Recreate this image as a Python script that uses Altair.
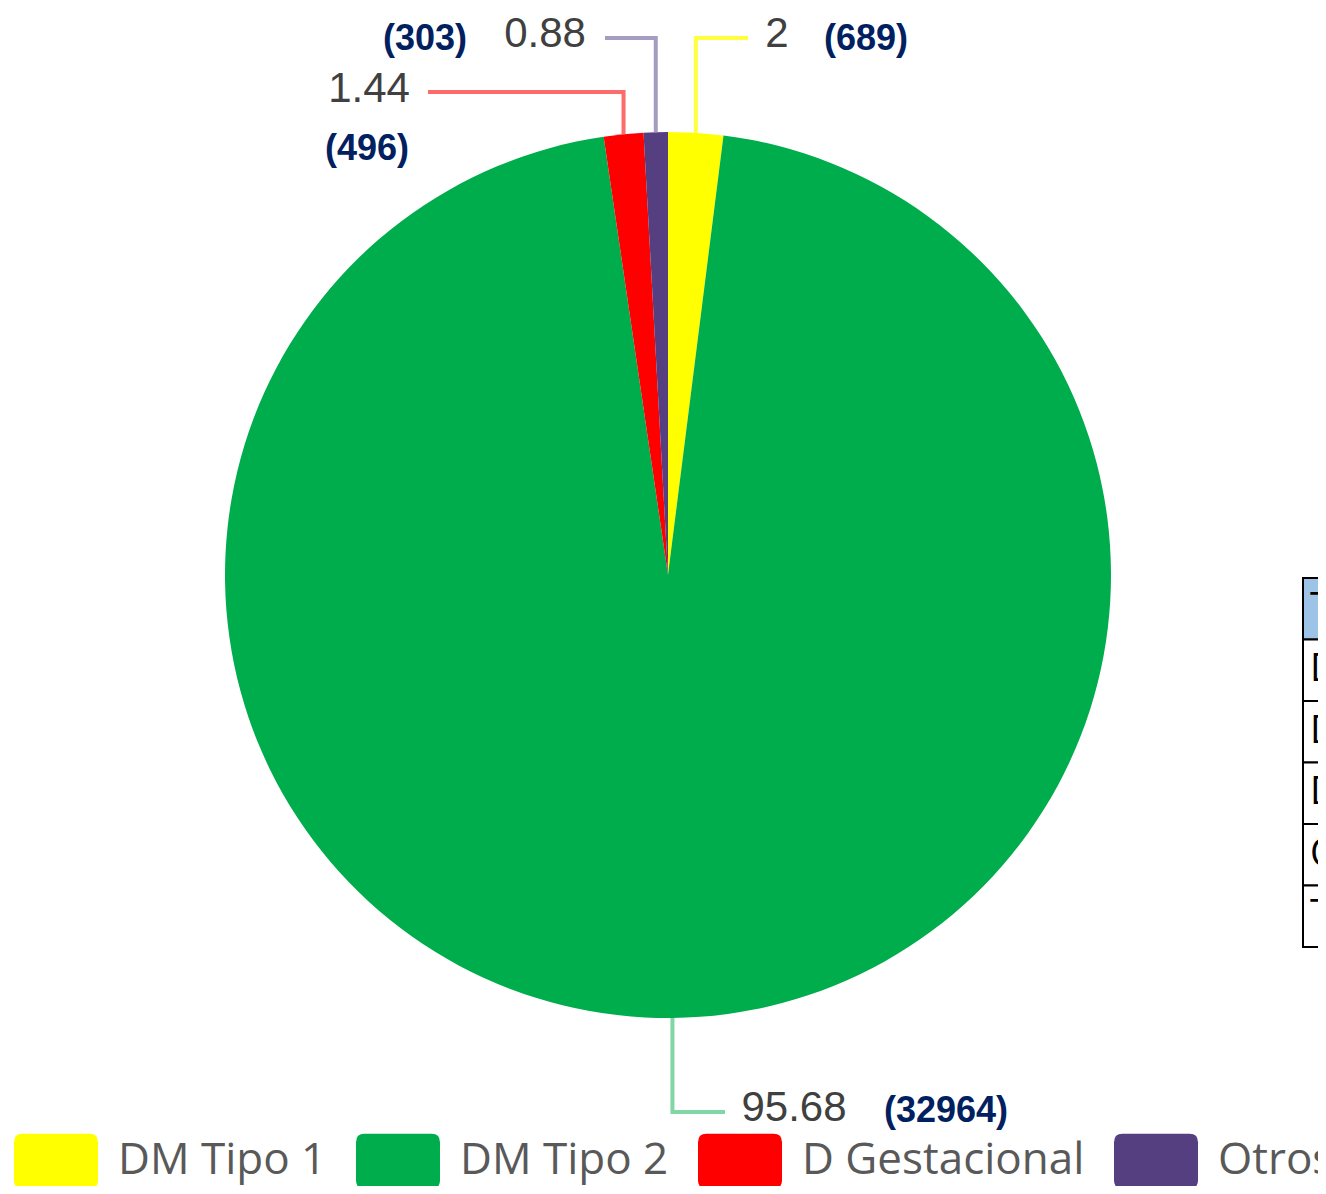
import math
import altair as alt
import pandas as pd

# ---------------- data ----------------
categorias = ["DM Tipo 1", "DM Tipo 2", "D Gestacional", "Otros"]
porcentajes = [2, 95.68, 1.44, 0.88]
casos = [689, 32964, 496, 303]
colores = ["#FFFF00", "#00AD4C", "#FF0000", "#553F80"]
colores_guia = ["#FFFF40", "#80D6A5", "#FF6A6A", "#A69CC2"]

tabla_encabezado = "Tipo"
tabla_total = "Total"

# ---------------- layout (page pixels) ----------------
OFF = 8
W, H = 1310, 1178
CX, CY, R = 668, 575, 443

def px(v):
    return v - OFF

# leader lines: elbow y and end x for each category
LEADER = {
    "DM Tipo 1": (38, 748),
    "DM Tipo 2": (1112, 725),
    "D Gestacional": (92, 428),
    "Otros": (38, 605),
}
PCT_POS = {
    "DM Tipo 1": (777, 34),
    "DM Tipo 2": (794, 1108),
    "D Gestacional": (369, 89),
    "Otros": (545, 34),
}
CNT_POS = {
    "DM Tipo 1": (866, 39),
    "DM Tipo 2": (946, 1111),
    "D Gestacional": (367, 149),
    "Otros": (425, 39),
}
TABLE_X0, TABLE_Y0, ROW_H, COL_W = 1303, 578, 61.5, 260

# ---------------- frames ----------------
pie_df = pd.DataFrame({
    "tipo": categorias,
    "valor": porcentajes,
    "orden": list(range(len(categorias))),
})

total = sum(porcentajes)
rows = []
acc = 0.0
for i, (c, v) in enumerate(zip(categorias, porcentajes)):
    mid = (acc + v / 2) / total * 2 * math.pi
    acc += v
    ax = CX + R * math.sin(mid)
    ay = CY - R * math.cos(mid)
    ey, ex = LEADER[c]
    for s, (xx, yy) in enumerate([(ax, ay), (ax, ey), (ex, ey)]):
        rows.append({"tipo": c, "seq": s, "x": px(xx), "y": px(yy), "color": colores_guia[i]})
leader_df = pd.DataFrame(rows)

pct_df = pd.DataFrame({
    "text": [f"{v:g}" for v in porcentajes],
    "x": [px(PCT_POS[c][0]) for c in categorias],
    "y": [px(PCT_POS[c][1]) for c in categorias],
})
cnt_df = pd.DataFrame({
    "text": [f"({n})" for n in casos],
    "x": [px(CNT_POS[c][0]) for c in categorias],
    "y": [px(CNT_POS[c][1]) for c in categorias],
})

tabla_textos = [tabla_encabezado] + categorias + [tabla_total]
cells = []
for r_i, txt in enumerate(tabla_textos):
    cells.append({
        "x0": px(TABLE_X0), "x1": px(TABLE_X0 + COL_W),
        "y0": px(TABLE_Y0 + r_i * ROW_H), "y1": px(TABLE_Y0 + (r_i + 1) * ROW_H),
        "tx": px(TABLE_X0 + 7), "ty": px(TABLE_Y0 + (r_i + 0.5) * ROW_H),
        "text": txt,
        "fill": "#9DC3E6" if r_i == 0 else "#FFFFFF",
    })
cell_df = pd.DataFrame(cells)

# ---------------- chart ----------------
XS = alt.Scale(domain=[0, W], nice=False, zero=False)
YS = alt.Scale(domain=[0, H], nice=False, zero=False, reverse=True)

sym = ("M-0.8,-0.655 L0.8,-0.655 Q1,-0.655 1,-0.455 L1,0.455 Q1,0.655 0.8,0.655 "
       "L-0.8,0.655 Q-1,0.655 -1,0.455 L-1,-0.455 Q-1,-0.655 -0.8,-0.655 Z")

arc = alt.Chart(pie_df).mark_arc(outerRadius=R).encode(
    theta=alt.Theta("valor:Q", stack=True),
    color=alt.Color(
        "tipo:N",
        sort=categorias,
        scale=alt.Scale(domain=categorias, range=colores),
        legend=alt.Legend(
            orient="none", legendX=px(14), legendY=px(1161) - 42,
            direction="horizontal", columns=4, title=None,
            symbolType=sym, symbolSize=7056, symbolStrokeWidth=0, symbolOpacity=1,
            labelFont="Open Sans", labelFontSize=44, labelColor="#595959",
            labelOffset=20, columnPadding=29, padding=0, labelLimit=500,
        ),
    ),
    order=alt.Order("orden:Q"),
    x=alt.value(px(CX)),
    y=alt.value(px(CY)),
)

leaders = alt.Chart(leader_df).mark_line(strokeWidth=4).encode(
    x=alt.X("x:Q", scale=XS, axis=None),
    y=alt.Y("y:Q", scale=YS, axis=None),
    detail="tipo:N",
    order="seq:Q",
    color=alt.Color("color:N", scale=None),
)

pct_text = alt.Chart(pct_df).mark_text(
    font="Liberation Sans", fontSize=42, color="#404040", align="center", baseline="middle"
).encode(x=alt.X("x:Q", scale=XS, axis=None), y=alt.Y("y:Q", scale=YS, axis=None), text="text:N")

cnt_text = alt.Chart(cnt_df).mark_text(
    font="Liberation Sans", fontSize=36, fontWeight="bold", color="#002060",
    align="center", baseline="middle"
).encode(x=alt.X("x:Q", scale=XS, axis=None), y=alt.Y("y:Q", scale=YS, axis=None), text="text:N")

table_rect = alt.Chart(cell_df).mark_rect(stroke="black", strokeWidth=2).encode(
    x=alt.X("x0:Q", scale=XS, axis=None), x2="x1:Q",
    y=alt.Y("y0:Q", scale=YS, axis=None), y2="y1:Q",
    fill=alt.Color("fill:N", scale=None),
)
table_text = alt.Chart(cell_df).mark_text(
    font="Open Sans", fontSize=38, color="#000000", align="left", baseline="middle"
).encode(x=alt.X("tx:Q", scale=XS, axis=None), y=alt.Y("ty:Q", scale=YS, axis=None), text="text:N")

chart = alt.layer(arc, leaders, pct_text, cnt_text, table_rect, table_text).properties(
    width=W, height=H,
    autosize=alt.AutoSizeParams(type="none"),
    padding=0,
).configure_view(strokeWidth=0)

chart.save("out.html", embed_options={"renderer": "svg", "actions": False})
